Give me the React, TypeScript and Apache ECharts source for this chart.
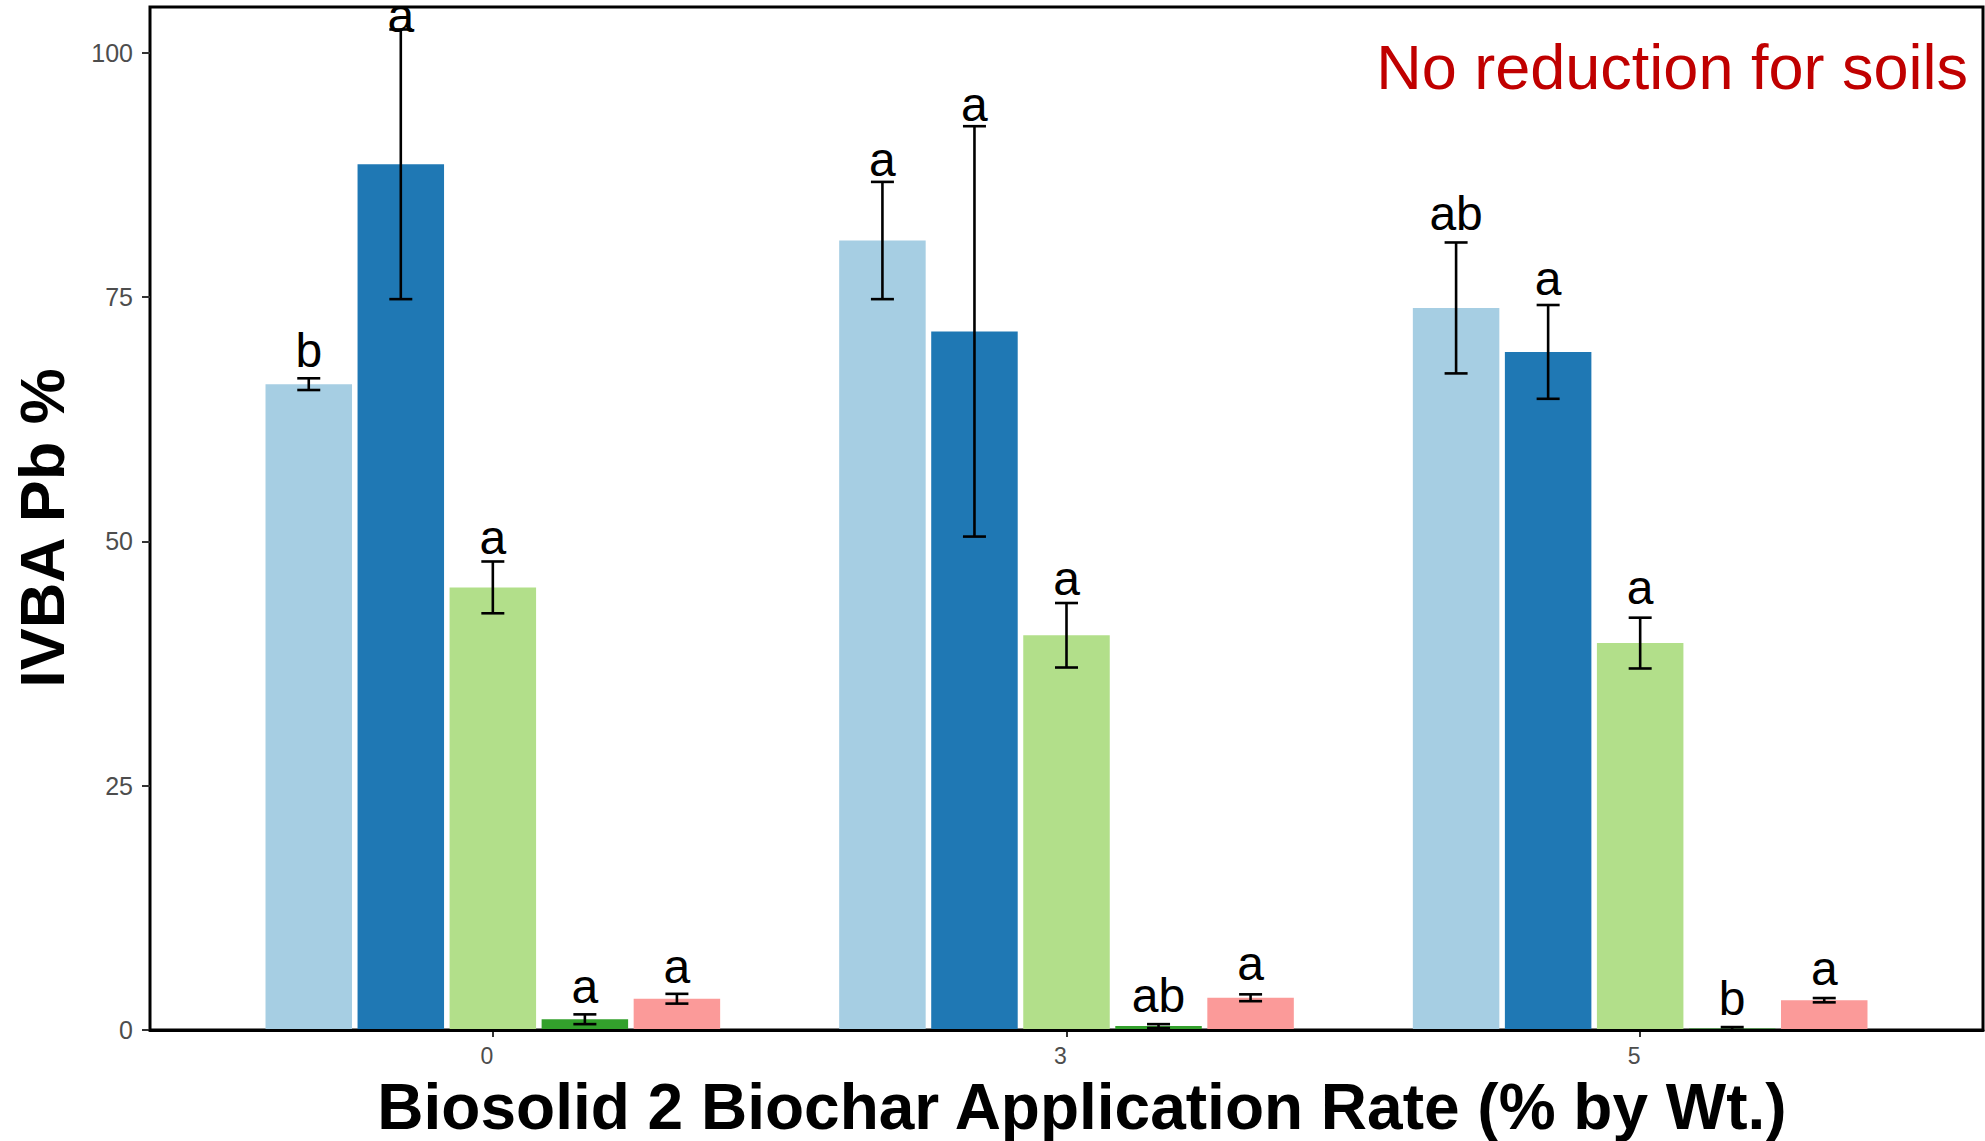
import React, { useEffect, useRef } from "react";
import * as echarts from "echarts";

const categories = ["0", "3", "5"];
const seriesColors = ["#A6CEE3", "#1F78B4", "#B2DF8A", "#33A02C", "#FB9A99"];
const seriesNames = ["Treatment 1", "Treatment 2", "Treatment 3", "Treatment 4", "Treatment 5"];

const meanLightBlue = [66.1, 80.8, 73.9];
const meanDarkBlue = [88.6, 71.5, 69.4];
const meanLightGreen = [45.3, 40.4, 39.6];
const meanDarkGreen = [1.1, 0.4, 0.15];
const meanPink = [3.2, 3.3, 3.05];

const seLightBlue = [0.6, 6.0, 6.7];
const seDarkBlue = [13.8, 21.0, 4.8];
const seLightGreen = [2.65, 3.3, 2.6];
const seDarkGreen = [0.5, 0.2, 0.15];
const sePink = [0.5, 0.35, 0.22];

const lettersLightBlue = ["b", "a", "ab"];
const lettersDarkBlue = ["a", "a", "a"];
const lettersLightGreen = ["a", "a", "a"];
const lettersDarkGreen = ["a", "ab", "b"];
const lettersPink = ["a", "a", "a"];

// value at which each letter's baseline sits
const labelYLightBlue = [67.8, 87.4, 81.8];
const labelYDarkBlue = [102.1, 93.0, 75.2];
const labelYLightGreen = [48.7, 44.5, 43.5];
const labelYDarkGreen = [2.76, 1.77, 1.5];
const labelYPink = [4.8, 5.05, 4.6];

const yTicks = [0, 25, 50, 75, 100];

const means = [meanLightBlue, meanDarkBlue, meanLightGreen, meanDarkGreen, meanPink];
const ses = [seLightBlue, seDarkBlue, seLightGreen, seDarkGreen, sePink];
const letters = [lettersLightBlue, lettersDarkBlue, lettersLightGreen, lettersDarkGreen, lettersPink];
const labelYs = [labelYLightBlue, labelYDarkBlue, labelYLightGreen, labelYDarkGreen, labelYPink];

const FONT = "'Liberation Sans', Arial, Helvetica, sans-serif";
const BAR_W = 86.5;
const GAP_PCT = 6.4;
const PITCH = BAR_W * (1 + GAP_PCT / 100);
const Y_MAX = 104.7;

export default function App() {
  const ref = useRef<HTMLDivElement>(null);
  useEffect(() => {
    if (!ref.current) return;
    const chart = echarts.init(ref.current, null, { renderer: "svg" });

    const barSeries = means.map((m, k) => ({
      name: seriesNames[k],
      type: "bar",
      xAxisIndex: 1,
      yAxisIndex: 1,
      barWidth: BAR_W,
      barGap: GAP_PCT + "%",
      data: m,
      itemStyle: { color: seriesColors[k] },
      z: 2,
    }));

    const errSeries = means.map((m, k) => ({
      name: seriesNames[k] + " err",
      type: "custom",
      xAxisIndex: 1,
      yAxisIndex: 1,
      clip: false,
      z: 4,
      encode: { x: 0, y: 1 },
      data: m.map((v, i) => [i, v, ses[k][i], labelYs[k][i]]),
      renderItem: (params: any, api: any) => {
        const i = api.value(0);
        const mean = api.value(1);
        const se = api.value(2);
        const ly = api.value(3);
        const c = api.coord([i, mean]);
        const x = c[0] + (k - 2) * PITCH;
        const yTop = api.coord([i, mean + se])[1];
        const yBot = api.coord([i, Math.max(mean - se, 0)])[1];
        const yLab = api.coord([i, ly])[1];
        const half = 11.5;
        const ls = { stroke: "#000", lineWidth: 2.6 };
        return {
          type: "group",
          children: [
            { type: "line", shape: { x1: x, y1: yTop, x2: x, y2: yBot }, style: ls },
            { type: "line", shape: { x1: x - half, y1: yTop, x2: x + half, y2: yTop }, style: ls },
            { type: "line", shape: { x1: x - half, y1: yBot, x2: x + half, y2: yBot }, style: ls },
            {
              type: "text",
              x: x,
              y: yLab - 17,
              style: {
                text: letters[k][params.dataIndex],
                fontSize: 48,
                fontFamily: FONT,
                fill: "#000",
                align: "center",
                verticalAlign: "middle",
              },
            },
          ],
        };
      },
    }));

    chart.setOption({
      animation: false,
      backgroundColor: "#fff",
      grid: [
        { left: 150, right: 2, top: 7, bottom: 111, show: true, borderColor: "#000", borderWidth: 3, backgroundColor: "transparent" },
        { left: 206, right: 58, top: 7, bottom: 111, show: false },
      ],
      xAxis: [
        {
          gridIndex: 0,
          type: "value",
          min: 0,
          max: 1,
          z: 10,
          axisLine: { show: true, lineStyle: { color: "#000", width: 3 } },
          axisTick: { show: false },
          axisLabel: { show: false },
          splitLine: { show: false },
        },
        {
          gridIndex: 1,
          type: "category",
          data: categories,
          axisLine: { show: false },
          axisTick: { show: true, alignWithLabel: true, length: 7, lineStyle: { color: "#333", width: 2 } },
          axisLabel: { fontSize: 23, color: "#4D4D4D", fontFamily: FONT, margin: 14, padding: [0, 12, 0, 0] },
          splitLine: { show: false },
        },
      ],
      yAxis: [
        {
          gridIndex: 0,
          type: "value",
          min: 0,
          max: Y_MAX,
          interval: 25,
          axisLine: { show: false },
          axisTick: { show: true, length: 8, lineStyle: { color: "#333", width: 2 }, customValues: yTicks },
          axisLabel: { fontSize: 25, color: "#4D4D4D", fontFamily: FONT, margin: 17, customValues: yTicks },
          splitLine: { show: false },
        },
        {
          gridIndex: 1,
          type: "value",
          min: 0,
          max: Y_MAX,
          show: false,
          splitLine: { show: false },
        },
      ],
      graphic: [
        {
          type: "text",
          x: 1968,
          y: 67,
          style: {
            text: "No reduction for soils",
            fontSize: 63,
            fontFamily: FONT,
            fill: "#C00000",
            align: "right",
            verticalAlign: "middle",
          },
        },
        {
          type: "text",
          x: 42,
          y: 528,
          rotation: Math.PI / 2,
          style: {
            text: "IVBA Pb %",
            fontSize: 63,
            fontWeight: "bold",
            fontFamily: FONT,
            fill: "#000",
            align: "center",
            verticalAlign: "middle",
          },
        },
        {
          type: "text",
          x: 1082,
          y: 1107,
          style: {
            text: "Biosolid 2 Biochar Application Rate (% by Wt.)",
            fontSize: 64,
            fontWeight: "bold",
            fontFamily: FONT,
            fill: "#000",
            align: "center",
            verticalAlign: "middle",
          },
        },
      ],
      series: [...barSeries, ...errSeries],
    });
    return () => chart.dispose();
  }, []);
  return (
    <div
      ref={ref}
      style={{ position: "fixed", left: 0, top: 0, width: 1985, height: 1141, background: "#fff" }}
    />
  );
}
